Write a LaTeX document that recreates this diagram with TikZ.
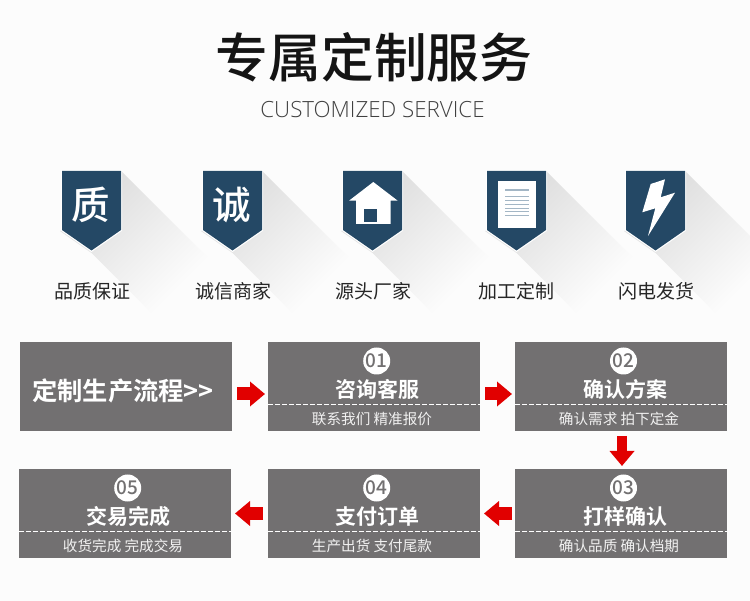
\documentclass[tikz,border=0pt]{standalone}
\usepackage{fontspec}
\usetikzlibrary{arrows.meta}
\newfontfamily\cjk[BoldFont={Noto Sans CJK SC Medium}]{Noto Sans CJK SC}
\newfontfamily\cjkheavy{Noto Sans CJK SC Bold}
\newfontfamily\latin{Open Sans Light}
\newfontfamily\numf{Noto Sans CJK SC Medium}
\definecolor{bgc}{HTML}{FCFCFC}
\definecolor{boxc}{HTML}{727071}
\definecolor{navy}{HTML}{244865}
\definecolor{redc}{HTML}{E10000}
\definecolor{rulec}{HTML}{A3B6C5}
\pgfdeclareverticalshading{shfade}{100bp}{rgb(0bp)=(0.988,0.988,0.988); rgb(34bp)=(0.988,0.988,0.988); rgb(76bp)=(0.86,0.86,0.86); rgb(100bp)=(0.86,0.86,0.86)}
\tikzset{
  x=1pt,y=-1pt,
  flowbox/.style={fill=boxc,minimum width=212pt,minimum height=89pt,inner sep=0pt,outer sep=0pt,anchor=north west},
  numdot/.style={circle,fill=white,text=boxc,minimum size=27pt,inner sep=0pt,font=\numf\fontsize{19}{19}\selectfont},
  steptitle/.style={text=white,inner sep=0pt,font=\cjkheavy\fontsize{21}{21}\selectfont},
  stepnote/.style={text=white!90!boxc,inner sep=0pt,font=\cjk\fontsize{14.6}{15}\selectfont},
  iconlabel/.style={text=black!85,inner sep=0pt,font=\cjk\fontsize{19}{19}\selectfont},
  iconchar/.style={text=white,inner sep=0pt,font=\cjk\bfseries\fontsize{38.5}{38.5}\selectfont},
  badge/.style={fill=navy,preaction={draw=white,line width=2.4pt,line join=miter}},
  longshadow/.style={shading=shfade,shading angle=45},
  flowarrow/.style={draw=redc,line width=13pt,-{Triangle[length=15pt,width=24pt,color=redc]},shorten <=5pt,shorten >=3pt},
  seam/.style={draw=white,line width=0.9pt,dash pattern=on 4.5pt off 2.5pt},
}
\newcommand{\shieldat}[1]{%
  \shade[longshadow,shift={(#1,0)}] (60,231) -- (91.5,253) -- (181.5,343) -- (212,262) -- (122,172) -- (122,231) -- cycle;
  \path[badge,shift={(#1,0)}] (62,171) -- (121,171) -- (121,230) -- (91.5,250.5) -- (62,230) -- cycle;
}
\begin{document}
\begin{tikzpicture}
\useasboundingbox (0,0) rectangle (750,601);
\clip (0,0) rectangle (750,601);
\fill[bgc] (0,0) rectangle (750,601);

\node[inner sep=0pt,text=black!92,font=\cjk\bfseries\fontsize{52.8}{53}\selectfont] (title) at (374,57) {专属定制服务};
\node[inner sep=0pt,text=black!75,font=\latin\fontsize{22.3}{23}\selectfont] (subtitle) at (372.5,109.5) {CUSTOMIZED SERVICE};

% long shadows and badges
\shieldat{0}
\shieldat{141}
\shieldat{281}
\shieldat{425}
\shieldat{564}

\node[iconchar] (c1) at (90.5,205) {质};
\node[iconchar] (c2) at (231.5,205) {诚};

% house
\fill[white] (373.3,182) -- (397.7,200.7) -- (390.7,200.7) -- (390.7,224) -- (356,224) -- (356,200.7) -- (349,200.7) -- cycle;
\fill[navy] (364,209) rectangle (376.7,222);

% document
\fill[white] (498,181) rectangle (536,228);
\draw[rulec,line width=1.3pt] (505,190) -- (528.5,190);
\foreach \yy in {196.7,200.7,204.3,208,211.7,215.3}
  \draw[rulec,line width=0.7pt] (505,\yy) -- (528.5,\yy);

% bolt
\fill[white] (665,179.3) -- (650.7,184) -- (642.3,212.3) -- (655.3,208.3) -- (648,236) -- (675,192.7) -- (660.7,197.3) -- cycle;

\node[iconlabel] (l1) at (92,291) {品质保证};
\node[iconlabel] (l2) at (233,291) {诚信商家};
\node[iconlabel] (l3) at (373,291) {源头厂家};
\node[iconlabel] (l4) at (516.5,291) {加工定制};
\node[iconlabel] (l5) at (656.5,291) {闪电发货};

% boxes
\node[flowbox] (b0) at (20,342) {};
\node[flowbox] (b1) at (268,342) {};
\node[flowbox] (b2) at (515,342) {};
\node[flowbox] (b3) at (515,469) {};
\node[flowbox] (b4) at (268,469) {};
\node[flowbox] (b5) at (19,469) {};

\node[text=white,inner sep=0pt,font=\cjkheavy\fontsize{25.3}{26}\selectfont] (b0t) at (123,391) {定制生产流程>>};

\draw[seam] (268,404.5) -- (480,404.5);
\draw[seam] (515,404.5) -- (727,404.5);
\draw[seam] (515,531.5) -- (727,531.5);
\draw[seam] (268,531.5) -- (480,531.5);
\draw[seam] (19,531.5) -- (231,531.5);

\node[numdot] (n1) at (376.7,361) {01};
\node[numdot] (n2) at (623.5,361) {02};
\node[numdot] (n3) at (623.5,488) {03};
\node[numdot] (n4) at (376.7,488) {04};
\node[numdot] (n5) at (127.7,488) {05};

\node[steptitle] (t1) at (377.7,389.5) {咨询客服};
\node[steptitle] (t2) at (625,389.5) {确认方案};
\node[steptitle] (t3) at (625,516.5) {打样确认};
\node[steptitle] (t4) at (377.7,516.5) {支付订单};
\node[steptitle] (t5) at (128.7,516.5) {交易完成};

\node[stepnote] (s1) at (372,419) {联系我们 精准报价};
\node[stepnote] (s2) at (619,419) {确认需求 拍下定金};
\node[stepnote] (s3) at (619,546) {确认品质 确认档期};
\node[stepnote] (s4) at (372,546) {生产出货 支付尾款};
\node[stepnote] (s5) at (123,546) {收货完成 完成交易};

% arrows
\draw[flowarrow] ([yshift=-7.5pt]b0.east) -- ([yshift=-7.5pt]b1.west);
\draw[flowarrow] ([yshift=-7.5pt]b1.east) -- ([yshift=-7.5pt]b2.west);
\draw[flowarrow,line width=10pt] ([xshift=1pt]b2.south) -- ([xshift=1pt]b3.north);
\draw[flowarrow,shorten <=3pt,shorten >=4pt] (b3.west) -- (b4.east);
\draw[flowarrow,shorten >=4pt] (b4.west) -- (b5.east);
\end{tikzpicture}
\end{document}
